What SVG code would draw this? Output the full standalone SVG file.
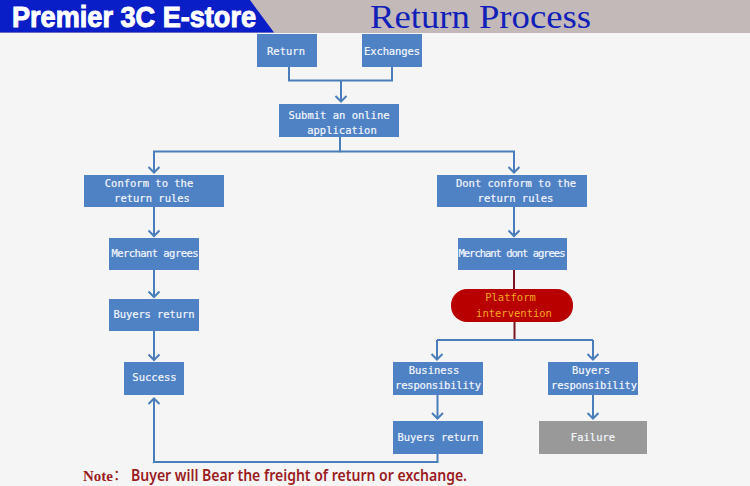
<svg xmlns="http://www.w3.org/2000/svg" width="750" height="486" viewBox="0 0 750 486">
<defs>
<marker id="arr" markerUnits="userSpaceOnUse" markerWidth="10" markerHeight="14" refX="9" refY="7" orient="auto" viewBox="0 0 10 14"><path d="M3 1.500L8.500 7L3 12.500" fill="none" stroke="#4a7ebb" stroke-width="2"/></marker>
</defs>
<style>
.box{fill:#4f81c5}
.t{font-family:"DejaVu Sans Mono","Liberation Mono",monospace;font-size:10.5px;fill:#f2f6fb;stroke:#f2f6fb;stroke-width:0.2;text-anchor:middle}
.c{fill:none;stroke:#4a7ebb;stroke-width:2}
.d{fill:none;stroke:#7a1420;stroke-width:2}
</style>
<rect width="750" height="486" fill="#f5f5f5"/>
<g id="header">
<rect width="750" height="33" fill="#c4b9b9"/>
<polygon points="0,0 250,0 274,32.500 0,32.500" fill="#0a1ec8"/>
<text x="12" y="27" font-family="'Liberation Sans',sans-serif" font-weight="bold" font-size="30" fill="#fff" stroke="#fff" stroke-width="1" textLength="244" lengthAdjust="spacingAndGlyphs">Premier 3C E-store</text>
<text x="370" y="28" font-family="'Liberation Serif',serif" font-size="33" fill="#1020b8" textLength="221" lengthAdjust="spacingAndGlyphs">Return Process</text>
</g>
<g id="connectors">
<path class="c" d="M289 67V80.500H392V67"/>
<path class="c" d="M341 80.500V102" marker-end="url(#arr)"/>
<path class="c" d="M340 137V151.500H514V173" marker-end="url(#arr)"/>
<path class="c" d="M340 151.500H154V173" marker-end="url(#arr)"/>
<path class="c" d="M154 207V236.500" marker-end="url(#arr)"/>
<path class="c" d="M154 270V297.500" marker-end="url(#arr)"/>
<path class="c" d="M154 331V360.500" marker-end="url(#arr)"/>
<path class="c" d="M514 207V236.500" marker-end="url(#arr)"/>
<path class="d" d="M514 270V289"/>
<path class="d" d="M514.500 322V340"/>
<path class="c" d="M437 340H593"/>
<path class="c" d="M437 340V360" marker-end="url(#arr)"/>
<path class="c" d="M593 340V360" marker-end="url(#arr)"/>
<path class="c" d="M437.500 395V419" marker-end="url(#arr)"/>
<path class="c" d="M593 395V419" marker-end="url(#arr)"/>
<path class="c" d="M437.500 454V462H154V398" marker-end="url(#arr)"/>
</g>
<g id="n-return"><rect class="box" x="257" y="34" width="60" height="33"/><text class="t" x="286" y="55">Return</text></g>
<g id="n-exchanges"><rect class="box" x="362" y="34" width="60" height="33"/><text class="t" x="392" y="55" textLength="56">Exchanges</text></g>
<g id="n-submit"><rect class="box" x="279" y="104" width="120" height="33"/><text class="t" x="339" y="118.500">Submit an online</text><text class="t" x="342" y="133.500">application</text></g>
<g id="n-conform"><rect class="box" x="84" y="175" width="140" height="32"/><text class="t" x="149" y="187">Conform to the</text><text class="t" x="152" y="202">return rules</text></g>
<g id="n-agrees"><rect class="box" x="109" y="238" width="90" height="32"/><text class="t" x="155" y="256.500" textLength="87">Merchant agrees</text></g>
<g id="n-return1"><rect class="box" x="109" y="299" width="90" height="32"/><text class="t" x="154" y="318" textLength="81">Buyers return</text></g>
<g id="n-success"><rect class="box" x="124" y="362" width="60" height="33"/><text class="t" x="154.500" y="381">Success</text></g>
<g id="n-dont"><rect class="box" x="437" y="175" width="150" height="32"/><text class="t" x="516" y="187">Dont conform to the</text><text class="t" x="515.500" y="202">return rules</text></g>
<g id="n-dontagrees"><rect class="box" x="458" y="238" width="109" height="32"/><text class="t" x="512" y="256.500" textLength="107">Merchant dont agrees</text></g>
<g id="n-platform"><rect x="451" y="289" width="122" height="33" rx="16" fill="#b80000"/><text class="t" x="510.500" y="301" style="fill:#f5a623;stroke:none">Platform</text><text class="t" x="514" y="317" style="fill:#f5a623;stroke:none">intervention</text></g>
<g id="n-business"><rect class="box" x="393" y="362" width="90" height="33"/><text class="t" x="434" y="374">Business</text><text class="t" x="438" y="389" textLength="86">responsibility</text></g>
<g id="n-buyersresp"><rect class="box" x="548" y="362" width="90" height="33"/><text class="t" x="591" y="374">Buyers</text><text class="t" x="594" y="389" textLength="86">responsibility</text></g>
<g id="n-return2"><rect class="box" x="393" y="421" width="90" height="33"/><text class="t" x="438" y="441" textLength="81">Buyers return</text></g>
<g id="n-failure"><rect x="539" y="421" width="108" height="33" fill="#999"/><text class="t" x="593" y="441">Failure</text></g>
<g id="note">
<text x="83" y="481" font-family="'Liberation Serif',serif" font-weight="bold" font-size="15" fill="#9b1c1f">Note</text>
<text x="113" y="480" font-family="'Noto Sans CJK SC',sans-serif" font-size="15" fill="#9b1c1f">：</text>
<text x="131" y="481" font-family="'Noto Sans',sans-serif" font-weight="600" font-size="16" fill="#9b1c1f" textLength="336" lengthAdjust="spacingAndGlyphs">Buyer will Bear the freight of return or exchange.</text>
</g>
</svg>
